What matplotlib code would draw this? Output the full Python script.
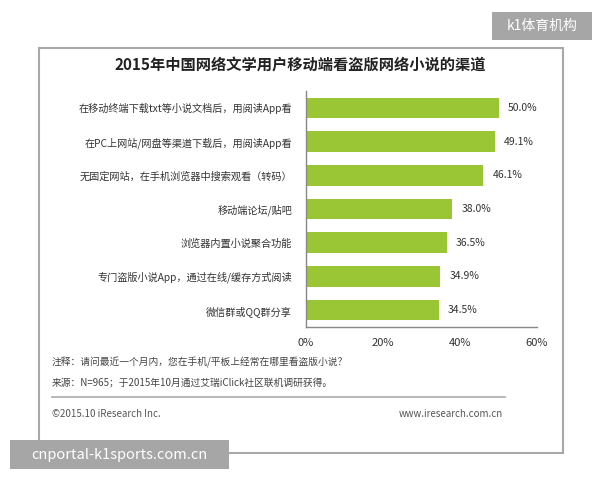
import matplotlib.pyplot as plt
from matplotlib.patches import Rectangle
from matplotlib.lines import Line2D

plt.rcParams['font.family'] = ['Noto Sans CJK SC', 'DejaVu Sans']

# data (top to bottom as in the picture)
channels = [
    '在移动终端下载txt等小说文档后，用阅读App看',
    '在PC上网站/网盘等渠道下载后，用阅读App看',
    '无固定网站，在手机浏览器中搜索观看（转码）',
    '移动端论坛/贴吧',
    '浏览器内置小说聚合功能',
    '专门盗版小说App，通过在线/缓存方式阅读',
    '微信群或QQ群分享',
]
shares = [50.0, 49.1, 46.1, 38.0, 36.5, 34.9, 34.5]
x_ticks = [0, 20, 40, 60]
x_tick_labels = ['0%', '20%', '40%', '60%']

W, H = 600, 480
fig = plt.figure(figsize=(6, 4.8), dpi=100)
fig.patch.set_facecolor('white')

def fx(px):
    return px / W

def fy(py):
    return 1 - py / H

# outer frame
fig.add_artist(Rectangle((fx(39), fy(453)), fx(563) - fx(39), fy(48) - fy(453),
                         transform=fig.transFigure, fill=False, edgecolor='#a8a8a8', lw=1.5))

fig.text(0.5, fy(66), '2015年中国网络文学用户移动端看盗版网络小说的渠道',
         ha='center', va='center', fontsize=11, fontweight='bold', color='#222222')

ax = fig.add_axes([fx(306), fy(327), fx(537) - fx(306), fy(91) - fy(327)])
ypos = list(range(len(channels)))[::-1]
ax.barh(ypos, shares, height=0.61, color='#9AC534')
for y, v in zip(ypos, shares):
    ax.text(v + 2.4, y, f'{v:.1f}%', va='center', ha='left', fontsize=7.5, color='#333333')

ax.set_xlim(0, 60)
ax.set_ylim(-0.5, 6.5)
ax.set_xticks(x_ticks)
ax.set_xticklabels(x_tick_labels, fontsize=8, color='#333333')
ax.set_yticks(ypos)
ax.set_yticklabels(channels, fontsize=7.3, color='#333333')
ax.tick_params(axis='both', length=0, pad=8)
ax.tick_params(axis='y', pad=10)
for s in ['top', 'right']:
    ax.spines[s].set_visible(False)
for s in ['left', 'bottom']:
    ax.spines[s].set_color('#888888')
    ax.spines[s].set_linewidth(1)

# notes
fig.text(fx(52), fy(362), '注释：请问最近一个月内，您在手机/平板上经常在哪里看盗版小说？',
         ha='left', va='center', fontsize=7, color='#444444')
fig.text(fx(52), fy(382), '来源：N=965；于2015年10月通过艾瑞iClick社区联机调研获得。',
         ha='left', va='center', fontsize=7, color='#444444')
fig.add_artist(Line2D([fx(52), fx(505)], [fy(397), fy(397)], transform=fig.transFigure,
                      color='#aaaaaa', lw=1.2))
fig.text(fx(52), fy(414), '©2015.10 iResearch Inc.', ha='left', va='center',
         fontsize=7, color='#555555')
fig.text(fx(503), fy(414), 'www.iresearch.com.cn', ha='right', va='center',
         fontsize=7, color='#555555')

# watermarks
fig.add_artist(Rectangle((fx(492), fy(40)), fx(592) - fx(492), fy(12) - fy(40),
                         transform=fig.transFigure, color='#a6a6a6', lw=0))
fig.text(fx(542), fy(26), 'k1体育机构', ha='center', va='center', fontsize=10,
         color='white', fontweight='light')
fig.add_artist(Rectangle((fx(10), fy(469)), fx(229) - fx(10), fy(440) - fy(469),
                         transform=fig.transFigure, color='#a6a6a6', lw=0))
fig.text(fx(119), fy(455), 'cnportal-k1sports.com.cn', ha='center', va='center',
         fontsize=10.5, color='white', fontweight='light')

fig.savefig('out.png', dpi=100, facecolor='white')
